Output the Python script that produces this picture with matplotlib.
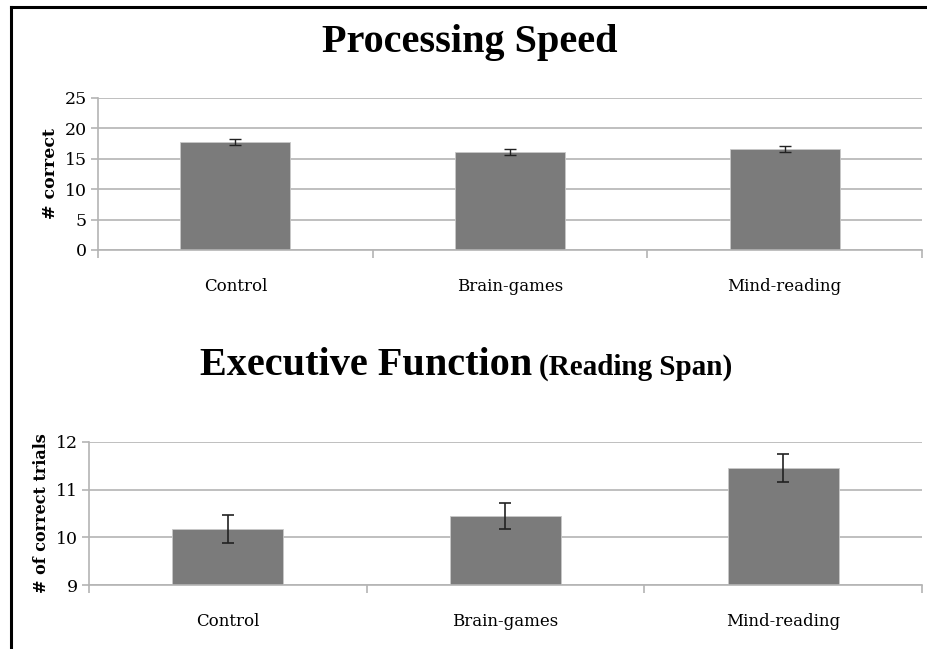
import numpy as np
import matplotlib.pyplot as plt
from matplotlib.lines import Line2D

groups = ['Control', 'Brain-games', 'Mind-reading']

speed = [17.7, 16.1, 16.6]
speed_err = [0.5, 0.5, 0.55]

span = [10.17, 10.45, 11.45]
span_err = [0.29, 0.28, 0.3]

bar_col = '#7b7b7b'
grid_col = '#b4b4b4'
serif = 'DejaVu Serif'

fig = plt.figure(figsize=(9.27, 6.49), dpi=100)


def style_axes(ax, lo, hi, step):
    x = np.arange(len(groups))
    ax.set_xlim(-0.5, len(groups) - 0.5)
    ax.set_ylim(lo, hi)
    ax.set_yticks(np.arange(lo, hi + step / 2, step))
    ax.yaxis.grid(True, color=grid_col, lw=1.2)
    ax.set_axisbelow(True)
    for s in ['top', 'right']:
        ax.spines[s].set_visible(False)
    for s in ['left', 'bottom']:
        ax.spines[s].set_color(grid_col)
        ax.spines[s].set_linewidth(1.2)
    ax.set_xticks(x)
    ax.set_xticklabels(groups, fontfamily=serif, fontsize=12)
    ax.tick_params(axis='x', length=0, pad=20)
    ax.set_xticks(np.arange(-0.5, len(groups)), minor=True)
    ax.tick_params(axis='x', which='minor', length=6, color=grid_col, width=1.2)
    ax.tick_params(axis='y', length=5, color=grid_col, width=1.2, pad=3)
    for t in ax.get_yticklabels():
        t.set_fontfamily(serif)
        t.set_fontsize(12.5)


# top chart
ax1 = fig.add_axes([0.1057, 0.6148, 0.8889, 0.2342])
x = np.arange(len(groups))
ax1.bar(x, speed, width=0.4, color=bar_col, edgecolor='#c8c8c8', lw=0.6, zorder=2)
ax1.errorbar(x, speed, yerr=speed_err, fmt='none', ecolor='#222222',
             elinewidth=1, capsize=4, capthick=1, zorder=3)
style_axes(ax1, 0, 25, 5)
ax1.set_ylabel('# correct', fontfamily=serif, fontweight='bold', fontsize=12.5, labelpad=4)

# bottom chart
ax2 = fig.add_axes([0.096, 0.0986, 0.8986, 0.2204])
ax2.bar(x, np.array(span) - 9, bottom=9, width=0.4, color=bar_col,
        edgecolor='#c8c8c8', lw=0.6, zorder=2)
ax2.errorbar(x, span, yerr=span_err, fmt='none', ecolor='#222222',
             elinewidth=1.2, capsize=4, capthick=1.2, zorder=3)
style_axes(ax2, 9, 12, 1)
ax2.set_ylabel('# of correct trials', fontfamily=serif, fontweight='bold', fontsize=11.5, labelpad=4)

# titles
fig.text(322 / 927, 0.935, 'Processing Speed', ha='left', va='center',
         fontfamily='Liberation Serif', fontweight='bold', fontsize=29)
fig.text(200 / 927, 0.437, 'Executive Function', ha='left', va='center',
         fontfamily='Liberation Serif', fontweight='bold', fontsize=29)
fig.text(539 / 927, 0.434, '(Reading Span)', ha='left', va='center',
         fontfamily='Liberation Serif', fontweight='bold', fontsize=21)

# frame lines at left and top
fig.add_artist(Line2D([0.0115, 0.0115], [0, 0.989], transform=fig.transFigure,
                      color='black', lw=2.2))
fig.add_artist(Line2D([0.0115, 1.0], [0.989, 0.989], transform=fig.transFigure,
                      color='black', lw=2.2))

plt.savefig('out.png', dpi=100)
